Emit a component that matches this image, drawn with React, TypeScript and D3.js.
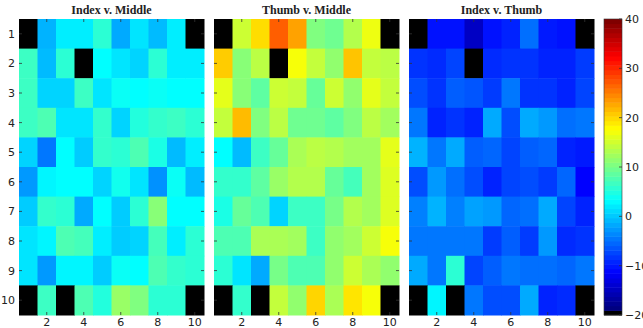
import React, { useEffect, useRef } from 'react';
import * as d3 from 'd3';

// NaN = black cell
const N = NaN;

const titles = ['Index v. Middle', 'Thumb v. Middle', 'Index v. Thumb'];
const rowLabels = [1, 2, 3, 4, 5, 6, 7, 8, 9, 10];
const colTicks = [2, 4, 6, 8, 10];
const barTicks = [-20, -10, 0, 10, 20, 30, 40];

const indexMiddle = [
  [N, -2, 1.5, 1.5, 5, -2.5, 1, -1.5, 1.5, N],
  [6, -1.5, 5, N, 2.5, 1, 0, 5, 1.5, 1.5],
  [6, 0, 0, 6, 1, 3, 2.5, 3, 2.5, 2.5],
  [6, 7, 1, 1, 5.5, 0, 4.5, 5.5, 6, 5],
  [0, -5.5, 2.5, -0.5, 5.5, 5, 7, 4, -1.5, 1.5],
  [-3.5, 2, 2.5, 2.5, 0, 3.5, 1, -4, 3, -1.5],
  [-0.5, 5.5, 5, -2.5, 2.5, -0.5, 5, 10.5, 2.5, 2.5],
  [1, 2, 7, 6.5, 1.5, -0.5, 0, 6.5, 1.5, 5],
  [1, -3.5, 2, 2, -0.5, 3, 2.5, 7, 5.5, 5],
  [N, 6, N, 7, 4.5, 11.5, 10, 5, 5, N],
];

const thumbMiddle = [
  [N, 14.5, 19.5, 27, 23, 10, 9, 13, 16.5, N],
  [20.5, 10.5, 13.5, N, 17, 14, 11, 21, 14, 13.5],
  [16, 10.5, 8, 14.5, 14, 8.5, 14.5, 11, 16, 14],
  [14, 21.5, 10, 13.5, 9, 9, 8, 10, 13.5, 12],
  [2.5, -1.5, 6, 8.5, 12.5, 13.5, 13, 12, 12, 16],
  [5.5, 5.5, 8, 11.5, 13, 13, 8.5, 6.5, 12, 15.5],
  [4, 8.5, 7, 0, 6, 6, 9.5, 13, 12, 15.5],
  [7, 7, 12.5, 12.5, 12, 6, 11, 12, 14.5, 17],
  [5, 1, -2.5, 9.5, 7, 7, 11, 14.5, 12.5, 11],
  [N, 5.5, N, 14, 11, 20, 12.5, 19, 17, N],
];

const indexThumb = [
  [N, -11.5, -11.5, -16, -11.5, -10.5, -6, -11, -11.5, N],
  [-9.5, -10, -8.5, N, -10, -9.5, -9.5, -10.5, -10.5, -9],
  [-8, -9.5, -7, -7.5, -9, -5.5, -9.5, -9.5, -10.5, -8.5],
  [-5.5, -10.5, -9.5, -10.5, -2.5, -8, -2.5, -3.5, -6, -5.5],
  [-2, -5.5, -2.5, -7, -6.5, -8.5, -7, -6.5, -10.5, -11],
  [-8, -3.5, -6, -8, -10.5, -8.5, -8, -9, -6.5, -12.5],
  [-5, -2, -5, -3, -3.5, -6.5, -6, -2.5, -8.5, -10.5],
  [-5.5, -5.5, -5.5, -5.5, -9, -7, -9, -3.5, -10, -9.5],
  [-2.5, -5.5, 5, -8.5, -7, -5.5, -6, -6, -6.5, -5.5],
  [N, 2, N, -5.5, -8, -8, -2.5, -10.5, -10, N],
];

const panels = [indexMiddle, thumbMiddle, indexThumb];

const jet = d3.scaleLinear<string>()
  .domain([0, 0.125, 0.375, 0.625, 0.875, 1])
  .range(['#000080', '#0000ff', '#00ffff', '#ffff00', '#ff0000', '#800000'])
  .clamp(true);

export default function App() {
  const ref = useRef<SVGSVGElement>(null);

  useEffect(() => {
    const svg = d3.select(ref.current);
    svg.selectAll('*').remove();

    const top = 19, bottom = 315;
    const panelW = 185, gap = 10, left0 = 19;
    const valueT = d3.scaleLinear().domain([-20, 40]).range([0, 1]);
    const y = d3.scaleBand<number>().domain(rowLabels).range([top, bottom]);
    const tickFont = '"DejaVu Sans", sans-serif';

    panels.forEach((data, p) => {
      const x0 = left0 + p * (panelW + gap);
      const x = d3.scaleBand<number>().domain(rowLabels).range([x0, x0 + panelW]);
      const g = svg.append('g');

      data.forEach((row, r) => {
        g.selectAll(null)
          .data(row)
          .enter()
          .append('rect')
          .attr('x', (d, c) => x(c + 1)!)
          .attr('y', y(r + 1)!)
          .attr('width', x.bandwidth() + 0.5)
          .attr('height', y.bandwidth() + 0.5)
          .attr('fill', d => (isNaN(d) ? '#000' : jet(valueT(d))));
      });

      // tick marks, inside the axes
      rowLabels.forEach(v => {
        const yy = y(v)! + y.bandwidth() / 2;
        g.append('line').attr('x1', x0).attr('x2', x0 + 3).attr('y1', yy).attr('y2', yy)
          .attr('stroke', '#333').attr('stroke-width', 0.8);
        g.append('line').attr('x1', x0 + panelW - 3).attr('x2', x0 + panelW).attr('y1', yy).attr('y2', yy)
          .attr('stroke', '#333').attr('stroke-width', 0.8);
      });
      colTicks.forEach(v => {
        const xx = x(v)! + x.bandwidth() / 2;
        g.append('line').attr('x1', xx).attr('x2', xx).attr('y1', top).attr('y2', top + 3)
          .attr('stroke', '#333').attr('stroke-width', 0.8);
        g.append('line').attr('x1', xx).attr('x2', xx).attr('y1', bottom - 3).attr('y2', bottom)
          .attr('stroke', '#333').attr('stroke-width', 0.8);
        g.append('text')
          .attr('x', xx)
          .attr('y', 326)
          .attr('text-anchor', 'middle')
          .attr('font-family', tickFont)
          .attr('font-size', 11)
          .attr('fill', '#222')
          .text(v);
      });

      g.append('text')
        .attr('x', x0 + panelW / 2)
        .attr('y', 14)
        .attr('text-anchor', 'middle')
        .attr('font-family', '"Liberation Serif", serif')
        .attr('font-weight', 'bold')
        .attr('font-size', 12)
        .attr('fill', '#222')
        .text(titles[p]);

      if (p === 0) {
        rowLabels.forEach(v => {
          g.append('text')
            .attr('x', 15)
            .attr('y', y(v)! + y.bandwidth() / 2 + 4)
            .attr('text-anchor', 'end')
            .attr('font-family', tickFont)
            .attr('font-size', 11)
            .attr('fill', '#222')
            .text(v);
        });
      }
    });

    // colorbar
    const cbX = 604, cbW = 18;
    const cbY = d3.scaleLinear().domain([-20, 40]).range([bottom, top]);
    const steps = d3.range(64);
    const stepH = (bottom - top) / 64;
    svg.append('g')
      .selectAll('rect')
      .data(steps)
      .enter()
      .append('rect')
      .attr('x', cbX)
      .attr('width', cbW)
      .attr('y', i => bottom - (i + 1) * stepH)
      .attr('height', stepH + 0.5)
      .attr('fill', i => (i === 0 ? '#000' : jet((i - 1) / 62)));
    svg.append('rect').attr('x', cbX).attr('y', top).attr('width', cbW).attr('height', bottom - top)
      .attr('fill', 'none').attr('stroke', '#333').attr('stroke-width', 0.6);

    barTicks.forEach(v => {
      const yy = cbY(v);
      svg.append('line').attr('x1', cbX + cbW - 3).attr('x2', cbX + cbW).attr('y1', yy).attr('y2', yy)
        .attr('stroke', '#333').attr('stroke-width', 0.8);
      svg.append('text')
        .attr('x', 625)
        .attr('y', yy + 4)
        .attr('font-family', tickFont)
        .attr('font-size', 11)
        .attr('fill', '#222')
        .text(v < 0 ? '\u2212' + Math.abs(v) : String(v));
    });
  }, []);

  return (
    <svg
      ref={ref}
      width={643}
      height={328}
      style={{ position: 'absolute', left: 0, top: 0, background: '#fff' }}
    />
  );
}
